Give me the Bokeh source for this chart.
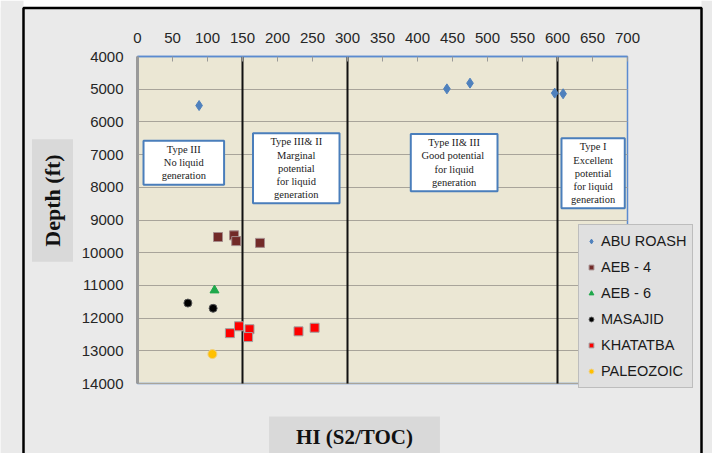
from bokeh.plotting import figure
from bokeh.models import (Range1d, FixedTicker, BoxAnnotation, Label, Legend, LegendItem)
from bokeh.core.properties import value
from bokeh.embed import file_html
from bokeh.resources import INLINE
import math

# ---------------- data ----------------
abu_roash_hi = [88, 442, 475, 596, 608]
abu_roash_depth = [5500, 4990, 4815, 5120, 5140]

aeb4_hi = [115, 138, 141, 175]
aeb4_depth = [9520, 9470, 9645, 9700]

aeb6_hi = [110]
aeb6_depth = [11150]

masajid_hi = [72, 108]
masajid_depth = [11540, 11700]

khatatba_hi = [132, 145, 160, 158, 230, 253]
khatatba_depth = [12460, 12250, 12340, 12580, 12405, 12295]

paleozoic_hi = [107]
paleozoic_depth = [13100]

x_ticks = [0, 50, 100, 150, 200, 250, 300, 350, 400, 450, 500, 550, 600, 650, 700]
y_ticks = [4000, 5000, 6000, 7000, 8000, 9000, 10000, 11000, 12000, 13000, 14000]
boundaries = [150, 300, 600]

zone_texts = ["Type III\nNo liquid\ngeneration",
              "Type III& II\nMarginal\npotential\nfor liquid\ngeneration",
              "Type II& III\nGood  potential\nfor liquid\ngeneration",
              "Type I\nExcellent\npotential\nfor liquid\ngeneration"]

# annotation box placement (layout, not data)
zone_left = [8.6, 165, 390.4, 605.7]
zone_right = [123.7, 288.6, 514.3, 696.1]
zone_top = [6573, 6350, 6369, 6503]
zone_bottom = [7925, 8487, 8121, 8640]

# ---------------- geometry ----------------
W, H = 712, 453
FL, FR, FT, FB = 137, 627, 56, 383          # pixel box of the data area
XMIN, XMAX = x_ticks[0], x_ticks[-1]
YMIN, YMAX = y_ticks[0], y_ticks[-1]
kx = (FR - FL) / (XMAX - XMIN)
ky = (FB - FT) / (YMAX - YMIN)


def dx(X):
    return XMIN + (X - FL) / kx


def dy(Y):
    return YMIN + (Y - FT) / ky


p = figure(width=W, height=H, output_backend="svg", toolbar_location=None,
           x_range=Range1d(dx(0), dx(W)), y_range=Range1d(dy(H), dy(0)),
           x_axis_location="above",
           min_border_left=0, min_border_right=0, min_border_top=0, min_border_bottom=0)
p.background_fill_color = "white"
p.border_fill_color = "white"
p.outline_line_color = None

# page decoration: gray surroundings and black page frame
for kw in (dict(right=dx(23)), dict(top=dy(7)), dict(left=dx(701))):
    p.add_layout(BoxAnnotation(fill_color="#eaeaea", fill_alpha=1, line_color=None,
                               level="image", **kw))
p.add_layout(BoxAnnotation(left=dx(23), right=dx(701), top=dy(7.5), bottom=dy(H + 20),
                           fill_alpha=0, line_color="#000000", line_alpha=1, line_width=2.5,
                           level="overlay"))

# plot area
p.add_layout(BoxAnnotation(left=XMIN, right=XMAX, top=YMIN, bottom=YMAX,
                           fill_color="#ebe7d4", fill_alpha=1,
                           line_color="#5b8bd0", line_alpha=1, line_width=1.5, level="image"))

p.xgrid.visible = False
p.ygrid.ticker = FixedTicker(ticks=y_ticks)
p.ygrid.grid_line_color = "#a8a49a"
p.ygrid.grid_line_width = 1.2
p.ygrid.cross_bounds = (XMIN, XMAX)

xa = p.xaxis[0]
xa.fixed_location = YMIN
xa.bounds = (XMIN, XMAX)
xa.ticker = FixedTicker(ticks=x_ticks)
xa.axis_line_color = "#5b8bd0"
xa.axis_line_width = 1.5
xa.major_tick_in = 5
xa.major_tick_out = 0
xa.major_tick_line_color = "#999999"
xa.minor_tick_line_color = None
xa.major_label_standoff = 14
xa.major_label_text_font = "Liberation Sans"
xa.major_label_text_font_size = "15px"
xa.major_label_text_color = "#262626"

ya = p.yaxis[0]
ya.fixed_location = XMIN
ya.bounds = (YMIN, YMAX)
ya.ticker = FixedTicker(ticks=y_ticks)
ya.axis_line_color = "#9a9a9a"
ya.axis_line_width = 3
ya.major_tick_in = 0
ya.major_tick_out = 0
ya.minor_tick_line_color = None
ya.major_label_standoff = 14
ya.major_label_text_font = "Liberation Sans"
ya.major_label_text_font_size = "15px"
ya.major_label_text_color = "#262626"

# boundaries between kerogen-type zones
p.segment(x0=boundaries, y0=[YMIN] * len(boundaries), x1=boundaries, y1=[YMAX] * len(boundaries),
          line_color="#111111", line_width=2)

# zone boxes
p.quad(left=zone_left, right=zone_right, top=zone_top, bottom=zone_bottom,
       fill_color="white", line_color="#4a7ebb", line_width=2)
cx = [(a + b) / 2 for a, b in zip(zone_left, zone_right)]
cy = [(a + b) / 2 for a, b in zip(zone_top, zone_bottom)]
p.text(x=cx, y=cy, text=zone_texts, text_align="center", text_baseline="middle",
       text_font=value("Liberation Serif"), text_font_size="10.5px",
       text_color="#222222", text_line_height=1.2)

# series
r1 = p.scatter(abu_roash_hi, abu_roash_depth, marker="diamond", size=10,
               fill_color="#4f81bd", line_color="#4f81bd")
r2 = p.scatter(aeb4_hi, aeb4_depth, marker="square", size=9,
               fill_color="#722a28", line_color="#a58b8b", line_width=1)
r3 = p.scatter(aeb6_hi, aeb6_depth, marker="triangle", size=9,
               fill_color="#1fa84b", line_color="#1fa84b")
r4 = p.scatter(masajid_hi, masajid_depth, marker="circle", size=8,
               fill_color="black", line_color="#555555")
r5 = p.scatter(khatatba_hi, khatatba_depth, marker="square", size=9,
               fill_color="#ff0000", line_color="#a0a0a0", line_width=1)
r6 = p.scatter(paleozoic_hi, paleozoic_depth, marker="circle", size=9,
               fill_color="#ffc000", line_color="#f0d080")

legend = Legend(items=[LegendItem(label="ABU ROASH", renderers=[r1]),
                       LegendItem(label="AEB - 4", renderers=[r2]),
                       LegendItem(label="AEB - 6", renderers=[r3]),
                       LegendItem(label="MASAJID", renderers=[r4]),
                       LegendItem(label="KHATATBA", renderers=[r5]),
                       LegendItem(label="PALEOZOIC", renderers=[r6])],
                location=(578, H - 388))
legend.background_fill_color = "#e0e0e0"
legend.background_fill_alpha = 1
legend.border_line_color = "#9a9a9a"
legend.border_line_width = 1.5
legend.label_text_font = "Liberation Sans"
legend.label_text_font_size = "14.5px"
legend.label_text_color = "#1a1a1a"
legend.padding = 6
legend.spacing = 6
legend.margin = 0
legend.label_height = 20
legend.glyph_height = 12
legend.glyph_width = 12
legend.label_standoff = 4
p.add_layout(legend, "center")

# axis title boxes
p.add_layout(Label(x=dx(52), y=dy(200), text="Depth (ft)", angle=math.pi / 2,
                   text_align="center", text_baseline="middle", text_font="Liberation Serif",
                   text_font_style="bold", text_font_size="22px", text_color="#111111",
                   background_fill_color="#d9d9d9", padding=(15, 8)))
p.add_layout(Label(x=dx(354), y=dy(436), text="HI (S2/TOC)",
                   text_align="center", text_baseline="middle",
                   text_font="Liberation Serif", text_font_style="bold",
                   text_font_size="21px", text_color="#111111",
                   background_fill_color="#d9d9d9", padding=(27, 8)))

open("out.html", "w").write(file_html(p, INLINE))
